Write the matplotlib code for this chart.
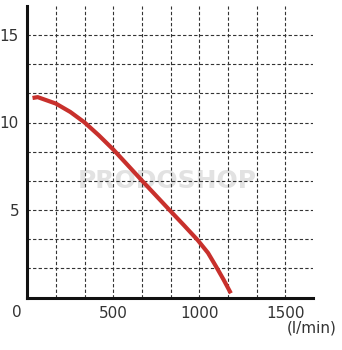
import matplotlib.pyplot as plt
from matplotlib.ticker import MultipleLocator

# flow (l/min) and head (m)
flow = [30, 60, 166, 250, 333, 415, 500, 580, 666, 750, 830, 910, 990, 1050, 1100, 1140, 1183]
head = [11.4, 11.45, 11.08, 10.6, 10.0, 9.27, 8.45, 7.6, 6.68, 5.8, 4.96, 4.13, 3.28, 2.55, 1.72, 1.03, 0.24]

x_ticks = [500, 1000, 1500]
y_ticks = [5, 10, 15]

fig = plt.figure(figsize=(3.42, 3.5), dpi=100)
ax = fig.add_axes([0.08, 0.15, 0.835, 0.833])

ax.plot(flow, head, color='#c8302c', lw=3.0, solid_capstyle='butt',
        solid_joinstyle='round', zorder=3)

ax.set_xlim(0, 1660)
ax.set_ylim(0, 16.66)
ax.set_xticks(x_ticks)
ax.set_yticks(y_ticks)
ax.xaxis.set_minor_locator(MultipleLocator(500 / 3))
ax.yaxis.set_minor_locator(MultipleLocator(5 / 3))
ax.grid(which='both', color='#333333', lw=0.8, linestyle=(0, (3, 2)))
ax.tick_params(which='both', length=0, labelsize=11, labelcolor='#333333')
ax.tick_params(axis='x', pad=6)
ax.tick_params(axis='y', pad=6)

for s in ['top', 'right']:
    ax.spines[s].set_visible(False)
for s in ['left', 'bottom']:
    ax.spines[s].set_linewidth(2.2)
    ax.spines[s].set_color('#111111')

ax.text(-0.037, -0.05, '0', transform=ax.transAxes, fontsize=11,
        color='#333333', ha='center', va='center')
ax.text(0.997, -0.105, '(l/min)', transform=ax.transAxes, fontsize=11,
        color='#333333', ha='center', va='center')

# faint watermark
ax.text(0.49, 0.40, 'PRODOSHOP', transform=ax.transAxes, fontsize=18,
        color='#e2e2e2', ha='center', va='center', fontweight='bold', zorder=1)

fig.savefig('out.png', dpi=100)
